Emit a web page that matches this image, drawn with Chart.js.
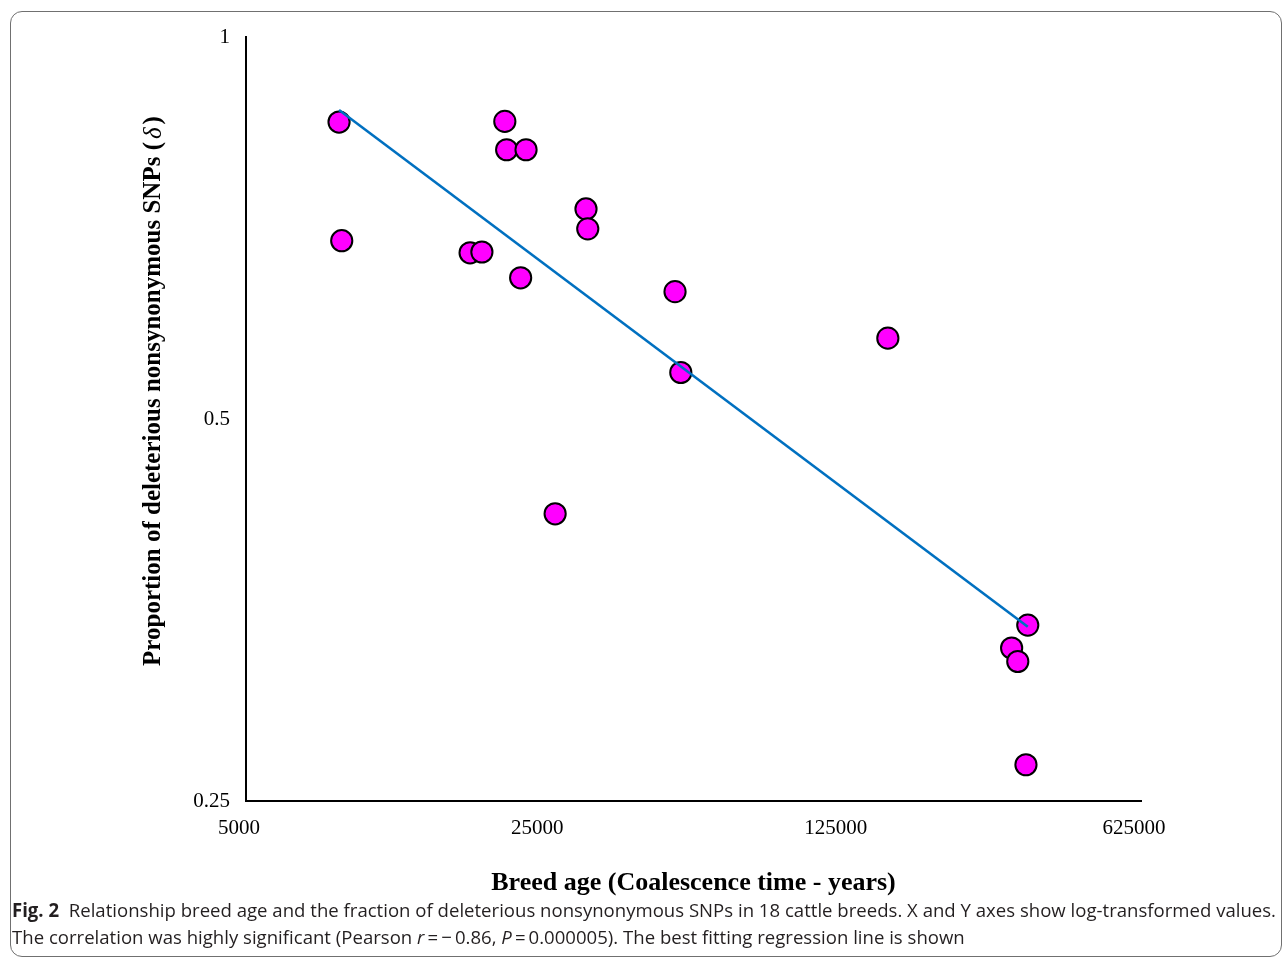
<!DOCTYPE html>
<html>
<head>
<meta charset="utf-8">
<script src="https://cdn.jsdelivr.net/npm/chart.js@4.4.0/dist/chart.umd.min.js"></script>
<style>
  html, body { margin: 0; padding: 0; background: #fff; }
  body { width: 1284px; height: 964px; position: relative; overflow: hidden; }
  #marco { position: absolute; left: 10px; top: 11px; width: 1270px; height: 944px; border: 1.5px solid #707070; border-radius: 12px; }
  #grafico { position: absolute; left: 0; top: 0; }
  #pie { position: absolute; left: 12px; top: 897px; font-family: 'Open Sans'; font-size: 19px; color: #231f20; line-height: 27px; white-space: nowrap; transform-origin: 0 0; }
  #pie span { display: inline-block; }
  #pie b { font-weight: 700; }
</style>
</head>
<body>
<div id="marco"></div>
<canvas id="grafico" width="1284" height="964"></canvas>
<div id="pie">
  <span id="linea1"><b>Fig. 2</b>&nbsp; Relationship breed age and the fraction of deleterious nonsynonymous SNPs in 18 cattle breeds. X and Y axes show log-transformed values.</span><br>
  <span>The correlation was highly significant (Pearson <i>r</i>&thinsp;=&thinsp;−&thinsp;0.86, <i>P</i>&thinsp;=&thinsp;0.000005). The best fitting regression line is shown</span>
</div>
<script>
// edad de la raza (años) y proporción de SNPs deletéreos
const edadRaza = [8260, 8380, 20200, 20400, 22650, 31300, 31600, 16750, 17850, 22000, 50600, 52200, 159500, 26500, 339300, 311000, 321500, 336000];
const proporcion = [0.857, 0.691, 0.858, 0.815, 0.815, 0.732, 0.706, 0.676, 0.677, 0.646, 0.630, 0.544, 0.579, 0.421, 0.344, 0.330, 0.322, 0.267];
// extremos de la recta de regresión
const regresionX = [8260, 339300];
const regresionY = [0.876, 0.343];
const ticksX = [5000, 25000, 125000, 625000];
const ticksY = [0.25, 0.5, 1];

const tituloY = {
    id: 'tituloY',
    afterDraw(chart) {
        const ctx = chart.ctx;
        const a = 'Proportion of deleterious nonsynonymous SNPs (';
        const d = 'δ';
        const c = ')';
        const fb = 'bold 25px "Liberation Serif"';
        const fi = 'italic 25px "Liberation Serif"';
        ctx.save();
        ctx.fillStyle = '#000';
        ctx.textBaseline = 'middle';
        ctx.textAlign = 'left';
        ctx.font = fb;
        const wa = ctx.measureText(a).width;
        const wc = ctx.measureText(c).width;
        ctx.font = fi;
        const wd = ctx.measureText(d).width + 6;
        ctx.translate(154, 391);
        ctx.rotate(-Math.PI / 2);
        let x = -(wa + wd + wc) / 2;
        ctx.font = fb; ctx.fillText(a, x, 0); x += wa + 3;
        ctx.font = fi; ctx.fillText(d, x, 0); x += wd - 3;
        ctx.font = fb; ctx.fillText(c, x, 0);
        ctx.restore();
    }
};

const ctx = document.getElementById('grafico').getContext('2d');
new Chart(ctx, {
    type: 'scatter',
    data: {
        datasets: [
            {
                data: regresionX.map((x, i) => ({ x: x, y: regresionY[i] })),
                showLine: true,
                borderColor: '#0070C0',
                borderWidth: 2.6,
                pointRadius: 0
            },
            {
                data: edadRaza.map((x, i) => ({ x: x, y: proporcion[i] })),
                backgroundColor: '#FF00FF',
                borderColor: '#000',
                borderWidth: 2,
                pointRadius: 10.6
            }
        ]
    },
    options: {
        responsive: false,
        animation: false,
        layout: { padding: { left: 0, top: 37, right: 143, bottom: 0 } },
        plugins: { legend: { display: false }, tooltip: { enabled: false } },
        scales: {
            x: {
                type: 'logarithmic',
                min: 5000,
                max: 625000,
                afterBuildTicks: s => { s.ticks = ticksX.map(v => ({ value: v })); },
                afterFit: s => { s.height = 163; },
                grid: { display: false, drawTicks: false },
                border: { display: true, color: '#000', width: 2 },
                ticks: {
                    padding: 15,
                    labelOffset: -7,
                    color: '#000',
                    font: { family: 'Liberation Serif', size: 21 },
                    callback: v => String(v)
                },
                title: {
                    display: true,
                    text: 'Breed age (Coalescence time - years)',
                    color: '#000',
                    font: { family: 'Liberation Serif', size: 26, weight: 'bold' },
                    padding: { top: 0, bottom: 65 }
                }
            },
            y: {
                type: 'logarithmic',
                min: 0.25,
                max: 1,
                afterBuildTicks: s => { s.ticks = ticksY.map(v => ({ value: v })); },
                afterFit: s => { s.width = 246; },
                grid: { display: false, drawTicks: false },
                border: { display: true, color: '#000', width: 2 },
                ticks: {
                    padding: 16,
                    color: '#000',
                    font: { family: 'Liberation Serif', size: 21 },
                    callback: v => String(v)
                }
            }
        }
    },
    plugins: [tituloY]
});

// ajustar el pie de figura al ancho del original
const linea1 = document.getElementById('linea1');
const escala = 1264 / linea1.getBoundingClientRect().width;
document.getElementById('pie').style.transform = 'scaleX(' + escala + ')';
</script>
</body>
</html>
